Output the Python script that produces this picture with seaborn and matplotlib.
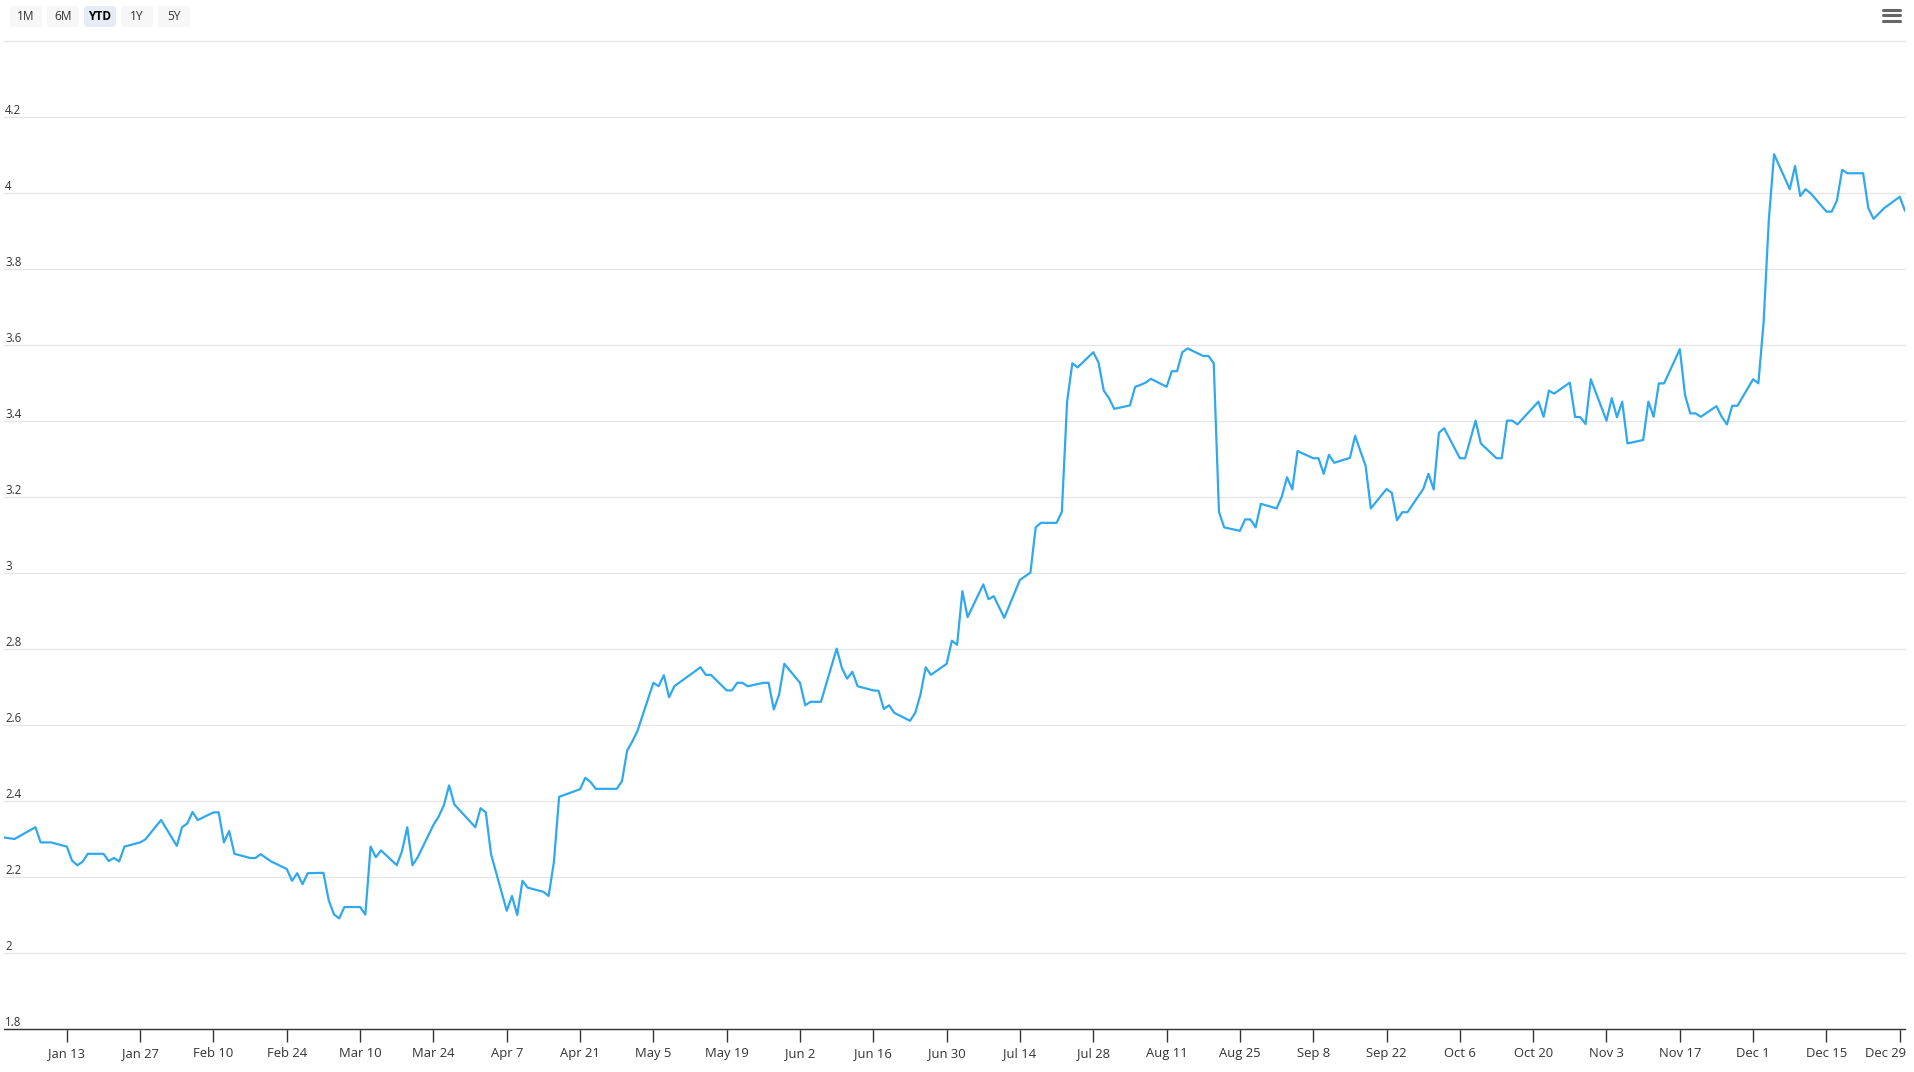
import matplotlib
matplotlib.use("Agg")
import matplotlib.pyplot as plt
from matplotlib.patches import FancyBboxPatch
from matplotlib.lines import Line2D
from matplotlib.transforms import ScaledTranslation, blended_transform_factory
import pandas as pd
import seaborn as sns

# -------------------------
# Data
# -------------------------
trade_dates = [
    "2025-01-01", "2025-01-03", "2025-01-07", "2025-01-08", "2025-01-10",
    "2025-01-13", "2025-01-14", "2025-01-15", "2025-01-16", "2025-01-17",
    "2025-01-20", "2025-01-21", "2025-01-22", "2025-01-23", "2025-01-24",
    "2025-01-27", "2025-01-28", "2025-01-31", "2025-02-03", "2025-02-04",
    "2025-02-05", "2025-02-06", "2025-02-07", "2025-02-10", "2025-02-11",
    "2025-02-12", "2025-02-13", "2025-02-14", "2025-02-17", "2025-02-18",
    "2025-02-19", "2025-02-21", "2025-02-24", "2025-02-25", "2025-02-26",
    "2025-02-27", "2025-02-28", "2025-03-03", "2025-03-04", "2025-03-05",
    "2025-03-06", "2025-03-07", "2025-03-10", "2025-03-11", "2025-03-12",
    "2025-03-13", "2025-03-14", "2025-03-17", "2025-03-18", "2025-03-19",
    "2025-03-20", "2025-03-21", "2025-03-24", "2025-03-25", "2025-03-26",
    "2025-03-27", "2025-03-28", "2025-04-01", "2025-04-02", "2025-04-03",
    "2025-04-04", "2025-04-07", "2025-04-08", "2025-04-09", "2025-04-10",
    "2025-04-11", "2025-04-14", "2025-04-15", "2025-04-16", "2025-04-17",
    "2025-04-21", "2025-04-22", "2025-04-23", "2025-04-24", "2025-04-28",
    "2025-04-29", "2025-04-30", "2025-05-01", "2025-05-02", "2025-05-05",
    "2025-05-06", "2025-05-07", "2025-05-08", "2025-05-09", "2025-05-14",
    "2025-05-15", "2025-05-16", "2025-05-19", "2025-05-20", "2025-05-21",
    "2025-05-22", "2025-05-23", "2025-05-26", "2025-05-27", "2025-05-28",
    "2025-05-29", "2025-05-30", "2025-06-02", "2025-06-03", "2025-06-04",
    "2025-06-06", "2025-06-09", "2025-06-10", "2025-06-11", "2025-06-12",
    "2025-06-13", "2025-06-16", "2025-06-17", "2025-06-18", "2025-06-19",
    "2025-06-20", "2025-06-23", "2025-06-24", "2025-06-25", "2025-06-26",
    "2025-06-27", "2025-06-30", "2025-07-01", "2025-07-02", "2025-07-03",
    "2025-07-04", "2025-07-07", "2025-07-08", "2025-07-09", "2025-07-11",
    "2025-07-14", "2025-07-16", "2025-07-17", "2025-07-18", "2025-07-21",
    "2025-07-22", "2025-07-23", "2025-07-24", "2025-07-25", "2025-07-28",
    "2025-07-29", "2025-07-30", "2025-07-31", "2025-08-01", "2025-08-04",
    "2025-08-05", "2025-08-06", "2025-08-07", "2025-08-08", "2025-08-11",
    "2025-08-12", "2025-08-13", "2025-08-14", "2025-08-15", "2025-08-18",
    "2025-08-19", "2025-08-20", "2025-08-21", "2025-08-22", "2025-08-25",
    "2025-08-26", "2025-08-27", "2025-08-28", "2025-08-29", "2025-09-01",
    "2025-09-02", "2025-09-03", "2025-09-04", "2025-09-05", "2025-09-08",
    "2025-09-09", "2025-09-10", "2025-09-11", "2025-09-12", "2025-09-15",
    "2025-09-16", "2025-09-17", "2025-09-18", "2025-09-19", "2025-09-22",
    "2025-09-23", "2025-09-24", "2025-09-25", "2025-09-26", "2025-09-29",
    "2025-09-30", "2025-10-01", "2025-10-02", "2025-10-03", "2025-10-06",
    "2025-10-07", "2025-10-08", "2025-10-09", "2025-10-10", "2025-10-13",
    "2025-10-14", "2025-10-15", "2025-10-16", "2025-10-17", "2025-10-21",
    "2025-10-22", "2025-10-23", "2025-10-24", "2025-10-27", "2025-10-28",
    "2025-10-29", "2025-10-30", "2025-10-31", "2025-11-03", "2025-11-04",
    "2025-11-05", "2025-11-06", "2025-11-07", "2025-11-10", "2025-11-11",
    "2025-11-12", "2025-11-13", "2025-11-14", "2025-11-17", "2025-11-18",
    "2025-11-19", "2025-11-20", "2025-11-21", "2025-11-24", "2025-11-25",
    "2025-11-26", "2025-11-27", "2025-11-28", "2025-12-01", "2025-12-02",
    "2025-12-03", "2025-12-04", "2025-12-05", "2025-12-08", "2025-12-09",
    "2025-12-10", "2025-12-11", "2025-12-12", "2025-12-15", "2025-12-16",
    "2025-12-17", "2025-12-18", "2025-12-19", "2025-12-22", "2025-12-23",
    "2025-12-24", "2025-12-26", "2025-12-29", "2025-12-30",
]

yields = [
    2.304, 2.300, 2.331, 2.291, 2.291,
    2.280, 2.243, 2.231, 2.240, 2.261,
    2.261, 2.242, 2.250, 2.241, 2.280,
    2.291, 2.299, 2.350, 2.282, 2.331,
    2.341, 2.371, 2.350, 2.370, 2.370,
    2.291, 2.321, 2.261, 2.250, 2.250,
    2.260, 2.241, 2.221, 2.190, 2.210,
    2.181, 2.210, 2.211, 2.139, 2.102,
    2.091, 2.121, 2.121, 2.101, 2.280,
    2.252, 2.270, 2.231, 2.268, 2.331,
    2.231, 2.252, 2.337, 2.359, 2.389,
    2.441, 2.391, 2.331, 2.381, 2.370,
    2.260, 2.111, 2.150, 2.100, 2.190,
    2.172, 2.161, 2.150, 2.239, 2.411,
    2.431, 2.461, 2.450, 2.432, 2.432,
    2.452, 2.533, 2.557, 2.586, 2.711,
    2.702, 2.731, 2.673, 2.702, 2.752,
    2.732, 2.732, 2.691, 2.691, 2.711,
    2.711, 2.702, 2.711, 2.711, 2.641,
    2.680, 2.761, 2.711, 2.652, 2.661,
    2.661, 2.801, 2.750, 2.722, 2.740,
    2.702, 2.691, 2.690, 2.642, 2.652,
    2.632, 2.611, 2.632, 2.680, 2.752,
    2.732, 2.761, 2.822, 2.811, 2.952,
    2.884, 2.970, 2.931, 2.939, 2.882,
    2.982, 3.001, 3.120, 3.132, 3.132,
    3.161, 3.451, 3.552, 3.541, 3.581,
    3.554, 3.480, 3.460, 3.432, 3.441,
    3.490, 3.495, 3.501, 3.511, 3.490,
    3.531, 3.531, 3.581, 3.591, 3.571,
    3.571, 3.552, 3.161, 3.120, 3.111,
    3.141, 3.141, 3.120, 3.182, 3.170,
    3.201, 3.252, 3.220, 3.321, 3.302,
    3.302, 3.261, 3.311, 3.290, 3.303,
    3.361, 3.321, 3.282, 3.170, 3.221,
    3.211, 3.139, 3.160, 3.160, 3.221,
    3.261, 3.220, 3.369, 3.381, 3.302,
    3.302, 3.352, 3.401, 3.341, 3.302,
    3.302, 3.401, 3.401, 3.391, 3.451,
    3.411, 3.480, 3.472, 3.501, 3.411,
    3.410, 3.392, 3.510, 3.401, 3.460,
    3.410, 3.451, 3.341, 3.350, 3.451,
    3.411, 3.499, 3.499, 3.589, 3.468,
    3.420, 3.420, 3.411, 3.439, 3.411,
    3.391, 3.440, 3.440, 3.510, 3.499,
    3.660, 3.930, 4.102, 4.010, 4.071,
    3.992, 4.010, 3.999, 3.951, 3.951,
    3.980, 4.061, 4.052, 4.052, 3.960,
    3.932, 3.960, 3.990, 3.953,
]

grid_levels = [1.8, 2.0, 2.2, 2.4, 2.6, 2.8, 3.0, 3.2, 3.4, 3.6, 3.8, 4.0, 4.2, 4.4]
y_labels = ["1.8", "2", "2.2", "2.4", "2.6", "2.8", "3", "3.2", "3.4", "3.6", "3.8", "4", "4.2", ""]
range_buttons = ["1M", "6M", "YTD", "1Y", "5Y"]
selected_button = "YTD"
first_tick, last_tick = "2025-01-13", "2025-12-29"

# -------------------------
# Layout helpers (pixel based)
# -------------------------
W, H = 1914, 1072
TEXT = "#333333"
LINE = "#2fa8ee"


def fig_box(x0, y0, x1, y1):
    """Pixel box (top-left origin) -> figure fraction [left, bottom, width, height]."""
    return [x0 / W, 1 - y1 / H, (x1 - x0) / W, (y1 - y0) / H]


def main():
    df = pd.DataFrame({"date": pd.to_datetime(trade_dates), "value": yields})

    sns.set_theme(style="white")
    plt.rcParams["font.family"] = ["Open Sans", "DejaVu Sans"]

    fig = plt.figure(figsize=(W / 100, H / 100), dpi=100)
    fig.patch.set_facecolor("white")
    ax = fig.add_axes(fig_box(4, 41, 1905, 1029))

    sns.lineplot(data=df, x="date", y="value", ax=ax, color=LINE,
                 linewidth=1.6, legend=False, zorder=3)

    ax.set_xlim(df["date"].min(), df["date"].max())
    ax.set_ylim(grid_levels[0], grid_levels[-1])
    ax.set_xlabel("")
    ax.set_ylabel("")

    # horizontal grid
    ax.set_yticks(grid_levels)
    ax.yaxis.grid(True, color="#e6e6e6", linewidth=1.0)
    for gl in ax.yaxis.get_gridlines():
        gl.set_clip_on(False)
    ax.tick_params(axis="y", left=False, labelleft=False)

    # y labels sit on top of their grid lines, inside the plot
    lab_tr = blended_transform_factory(ax.transAxes, ax.transData) + \
        ScaledTranslation(0.01, 0.03, fig.dpi_scale_trans)
    for level, lab in zip(grid_levels, y_labels):
        if lab:
            ax.text(0.0, level, lab, transform=lab_tr, ha="left", va="baseline",
                    fontsize=8.3, color=TEXT)

    # x axis: ticks every two weeks
    ticks = pd.date_range(first_tick, last_tick, freq="14D")
    ax.set_xticks(ticks)
    ax.set_xticklabels([d.strftime("%b ") + str(d.day) for d in ticks])
    ax.tick_params(axis="x", bottom=True, length=9, width=1, color=TEXT,
                   labelsize=9.4, labelcolor=TEXT, pad=4)
    last = ax.get_xticklabels()[-1]
    last.set_horizontalalignment("right")
    last.set_transform(last.get_transform() + ScaledTranslation(0.06, 0, fig.dpi_scale_trans))

    for side in ("top", "left", "right"):
        ax.spines[side].set_visible(False)
    ax.spines["bottom"].set_color(TEXT)
    ax.spines["bottom"].set_linewidth(1.0)

    # range selector buttons
    for i, name in enumerate(range_buttons):
        x0 = 10 + i * 37
        active = name == selected_button
        box = FancyBboxPatch((x0 / W, 1 - 27 / H), 32 / W, 21 / H,
                             boxstyle="round,pad=0,rounding_size=0.002",
                             transform=fig.transFigure, facecolor="#e6ebf5" if active else "#f7f7f7",
                             edgecolor="none")
        fig.patches.append(box)
        fig.text((x0 + 16) / W, 1 - 16.5 / H, name, ha="center", va="center",
                 fontsize=8.6, color="#000000" if active else TEXT,
                 fontweight="bold" if active else "normal")

    # context menu icon
    for yy in (10, 15, 20.5):
        fig.add_artist(Line2D([1883 / W, 1900 / W], [1 - yy / H, 1 - yy / H],
                              transform=fig.transFigure, color="#666666", linewidth=2.2))

    fig.savefig("out.png", dpi=100, facecolor="white")
    plt.close(fig)


if __name__ == "__main__":
    main()
